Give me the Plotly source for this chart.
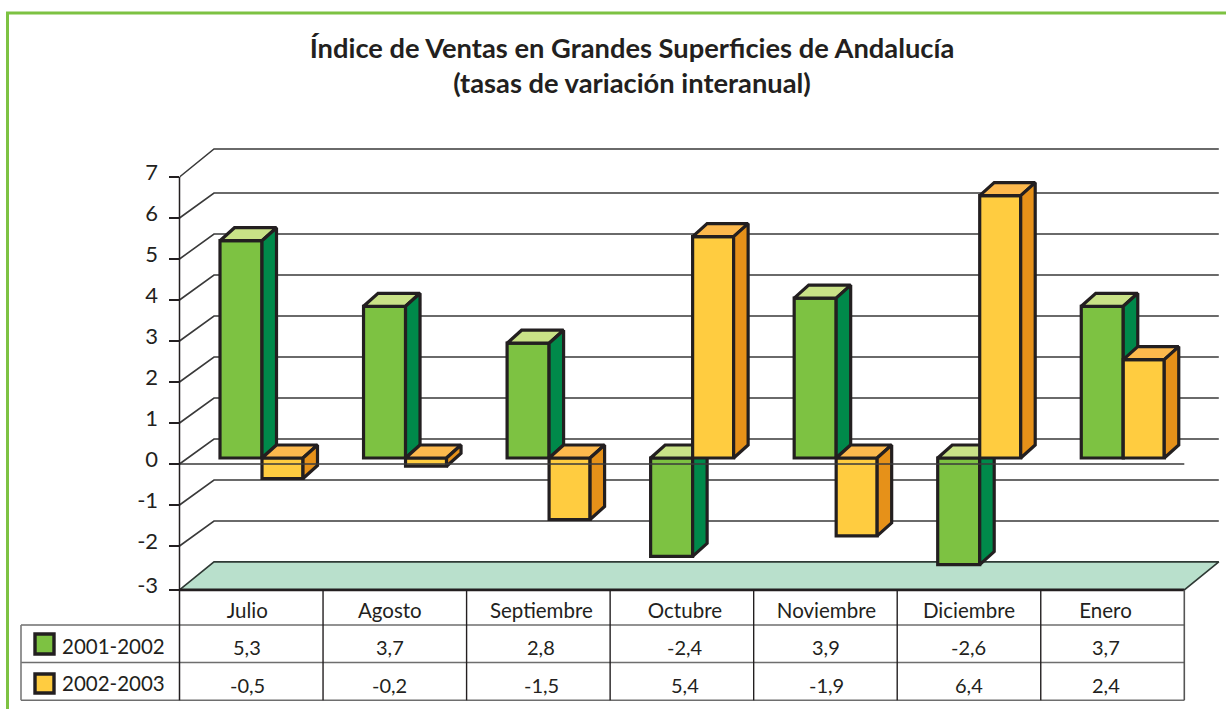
import plotly.graph_objects as go

# ---- data ----
categories = ["Julio", "Agosto", "Septiembre", "Octubre", "Noviembre", "Diciembre", "Enero"]
series_a_name = "2001-2002"
series_b_name = "2002-2003"
series_a = [5.3, 3.7, 2.8, -2.4, 3.9, -2.6, 3.7]
series_b = [-0.5, -0.2, -1.5, 5.4, -1.9, 6.4, 2.4]
tick_labels = ["-3", "-2", "-1", "0", "1", "2", "3", "4", "5", "6", "7"]
tick_levels = [-3.07, -2, -1, 0, 1, 2, 3, 4, 5, 6, 7]
wall_depth_px = [28, 25, 25, 25, 25, 25, 25, 25, 25, 25, 28]

# ---- page geometry (pixels) ----
W, H = 1226, 709
PX_PER_UNIT = 41.0
ZERO_PX = 464.0
LEFT_PX, RIGHT_PX = 179.5, 1184.3
PLOT_RIGHT_PX = 1224.0
PLOT_TOP_PX, BOTTOM_PX = 130.0, 700.0
AXIS_TOP_PX = 177.0
COL_PX = (RIGHT_PX - LEFT_PX) / 7
X_LAST = 6.5
WALL_DX = 34.5 / COL_PX
BAR_BASE = 6.0 / PX_PER_UNIT
BAR_LEFT = (40.5 - COL_PX / 2) / COL_PX
BAR_W_A = 42.0 / COL_PX
BAR_W_B = 41.0 / COL_PX
DEPTH_X = 14.5 / COL_PX
DEPTH_Y = 13.0 / PX_PER_UNIT
ROW_LINES_PX = [625, 662.5, 700.3]
FONT = "Lato"
INK = "#231f20"
EDGE = 3.2


def v(px):
    return (ZERO_PX - px) / PX_PER_UNIT


def px_x(px):
    return px / W


def px_y(px):
    return 1 - px / H


x_range = [-0.5, X_LAST + (PLOT_RIGHT_PX - RIGHT_PX) / COL_PX]
y_range = [v(BOTTOM_PX), v(PLOT_TOP_PX)]
x_domain = [px_x(LEFT_PX), px_x(PLOT_RIGHT_PX)]
y_domain = [px_y(BOTTOM_PX), px_y(PLOT_TOP_PX)]
n = len(categories)

fig = go.Figure()


def polygons(rows, color, xa, ya, name):
    xs, ys = [], []
    for poly in rows:
        xs += [p[0] for p in poly] + [poly[0][0], None]
        ys += [p[1] for p in poly] + [poly[0][1], None]
    fig.add_trace(go.Scatter(x=xs, y=ys, mode="lines", fill="toself", fillcolor=color,
                             line=dict(color=INK, width=EDGE),
                             showlegend=False, hoverinfo="skip", xaxis=xa, yaxis=ya, name=name))


def bar_series(values, left, width, front, top, side, name, xa, ya):
    fig.add_trace(go.Bar(x=list(range(n)), y=values, base=[BAR_BASE] * n, offset=left, width=width,
                         marker=dict(color=front, line=dict(color=INK, width=EDGE)),
                         name=name, showlegend=False, xaxis=xa, yaxis=ya))
    tops, sides = [], []
    for i, val in enumerate(values):
        x0, x1 = i + left, i + left + width
        hi = BAR_BASE + max(val, 0)
        lo = BAR_BASE + min(val, 0)
        tops.append([(x0, hi), (x0 + DEPTH_X, hi + DEPTH_Y), (x1 + DEPTH_X, hi + DEPTH_Y), (x1, hi)])
        sides.append([(x1, hi), (x1 + DEPTH_X, hi + DEPTH_Y), (x1 + DEPTH_X, lo + DEPTH_Y), (x1, lo)])
    polygons(tops, top, xa, ya, name + " top")
    polygons(sides, side, xa, ya, name + " side")


# --- walls and floor (base layer) ---
x_front, x_back, x_end_back = -0.5, -0.5 + WALL_DX, X_LAST + WALL_DX
for level, depth in zip(tick_levels[1:], wall_depth_px[1:]):
    back = level + depth / PX_PER_UNIT
    fig.add_trace(go.Scatter(x=[x_front, x_back, x_end_back], y=[level, back, back], mode="lines",
                             line=dict(color="#3a3a3a", width=1.6),
                             showlegend=False, hoverinfo="skip"))
floor = tick_levels[0]
floor_back = floor + wall_depth_px[0] / PX_PER_UNIT
fig.add_trace(go.Scatter(x=[x_front, x_back, x_end_back, X_LAST, x_front],
                         y=[floor, floor_back, floor_back, floor, floor],
                         mode="lines", fill="toself", fillcolor="#b9e0cc",
                         line=dict(color="#2f3a35", width=1.6),
                         showlegend=False, hoverinfo="skip"))
fig.add_trace(go.Scatter(x=[x_front, X_LAST], y=[floor, floor], mode="lines",
                         line=dict(color=INK, width=2.6),
                         showlegend=False, hoverinfo="skip"))

# --- bars: green layer, then yellow layer on top ---
bar_series(series_a, BAR_LEFT, BAR_W_A, "#7dc242", "#c9e287", "#00894a", series_a_name, "x2", "y2")
bar_series(series_b, BAR_LEFT + BAR_W_A, BAR_W_B, "#ffcc40", "#fdb94d", "#e69119", series_b_name, "x3", "y3")

# --- zero line over the bars ---
fig.add_trace(go.Scatter(x=[x_front, X_LAST], y=[0, 0], mode="lines",
                         line=dict(color="#3a3a3a", width=1.6),
                         showlegend=False, hoverinfo="skip", xaxis="x4", yaxis="y4"))

# --- table ---
shapes = []


def line(x0, y0, x1, y1, color="#6e6e6e", width=1.6, xref="paper"):
    shapes.append(dict(type="line", xref=xref, yref="paper", x0=x0, y0=y0, x1=x1, y1=y1,
                       line=dict(color=color, width=width)))


for r in ROW_LINES_PX:
    line(px_x(21), px_y(r), px_x(RIGHT_PX), px_y(r))
line(px_x(21), px_y(ROW_LINES_PX[0]), px_x(21), px_y(ROW_LINES_PX[-1]), "#7a7a7a", 1.6)
line(px_x(RIGHT_PX), px_y(590), px_x(RIGHT_PX), px_y(ROW_LINES_PX[-1]), "#555555", 1.6)
for i in range(1, n):
    line(i - 0.5, px_y(590), i - 0.5, px_y(ROW_LINES_PX[-1]), INK, 1.4, "x")

# value axis line
line(px_x(LEFT_PX), px_y(AXIS_TOP_PX), px_x(LEFT_PX), px_y(ROW_LINES_PX[-1]), INK, 1.5)

# page frame
line(px_x(7.5), 0, px_x(7.5), px_y(13), "#7dc242", 3)
line(px_x(6), px_y(13), 1, px_y(13), "#7dc242", 3)

# legend keys in the table
for (top, bottom, col) in [(634, 654, "#7dc242"), (674, 693, "#ffcc40")]:
    shapes.append(dict(type="rect", xref="paper", yref="paper", x0=px_x(35), x1=px_x(54),
                       y0=px_y(bottom), y1=px_y(top), fillcolor=col,
                       line=dict(color=INK, width=3.4)))

label_font = dict(family=FONT, size=20.5, color=INK)
annotations = []
for nm, cy in [(series_a_name, 646), (series_b_name, 683)]:
    annotations.append(dict(text=nm, xref="paper", yref="paper", x=px_x(60), y=px_y(cy),
                            xanchor="left", yanchor="middle", showarrow=False,
                            font=dict(family=FONT, size=20.5, color=INK)))

cell_shift_px = [-4, -5, 3, 3, 1, 0, -7]
for i in range(n):
    for values, cy in [(series_a, 647), (series_b, 685)]:
        annotations.append(dict(text=str(values[i]).replace(".", ","), xref="x", yref="paper",
                                x=i + cell_shift_px[i] / COL_PX, y=px_y(cy),
                                xanchor="center", yanchor="middle", showarrow=False,
                                font=dict(family=FONT, size=20, color=INK)))

hidden = dict(visible=False, range=x_range, domain=x_domain, fixedrange=True)
hidden_y = dict(visible=False, range=y_range, domain=y_domain, fixedrange=True)

fig.update_layout(
    width=W, height=H, autosize=False,
    margin=dict(l=0, r=0, t=0, b=0, autoexpand=False),
    paper_bgcolor="white", plot_bgcolor="rgba(0,0,0,0)",
    barmode="overlay", showlegend=False,
    title=dict(text="Índice de Ventas en Grandes Superficies de Andalucía<br>(tasas de variación interanual)",
               x=632 / W, xanchor="center", y=px_y(57.5), yanchor="top",
               font=dict(family=FONT, size=27.3, color=INK, weight="bold")),
    xaxis=dict(range=x_range, domain=x_domain, anchor="free", position=px_y(590),
               tickmode="array", tickvals=[i + cell_shift_px[i] / COL_PX for i in range(n)],
               ticktext=categories, showgrid=False, zeroline=False, showline=False, ticks="",
               tickfont=label_font, ticklabelstandoff=6, fixedrange=True),
    yaxis=dict(range=y_range, domain=y_domain, anchor="x",
               tickmode="array", tickvals=tick_levels, ticktext=tick_labels,
               showgrid=False, zeroline=False, showline=False,
               ticks="outside", ticklen=10, tickwidth=1.5, tickcolor=INK,
               ticklabelshift=-5, ticklabelstandoff=6,
               tickfont=dict(family=FONT, size=22, color=INK), fixedrange=True),
    xaxis2=dict(overlaying="x", anchor="y2", **hidden),
    yaxis2=dict(overlaying="y", anchor="x2", **hidden_y),
    xaxis3=dict(overlaying="x", anchor="y3", **hidden),
    yaxis3=dict(overlaying="y", anchor="x3", **hidden_y),
    xaxis4=dict(overlaying="x", anchor="y4", **hidden),
    yaxis4=dict(overlaying="y", anchor="x4", **hidden_y),
    shapes=shapes, annotations=annotations,
)

fig.write_html("out.html", config={"displayModeBar": False},
               post_script="document.body.style.margin='0';document.body.style.overflow='hidden';")
